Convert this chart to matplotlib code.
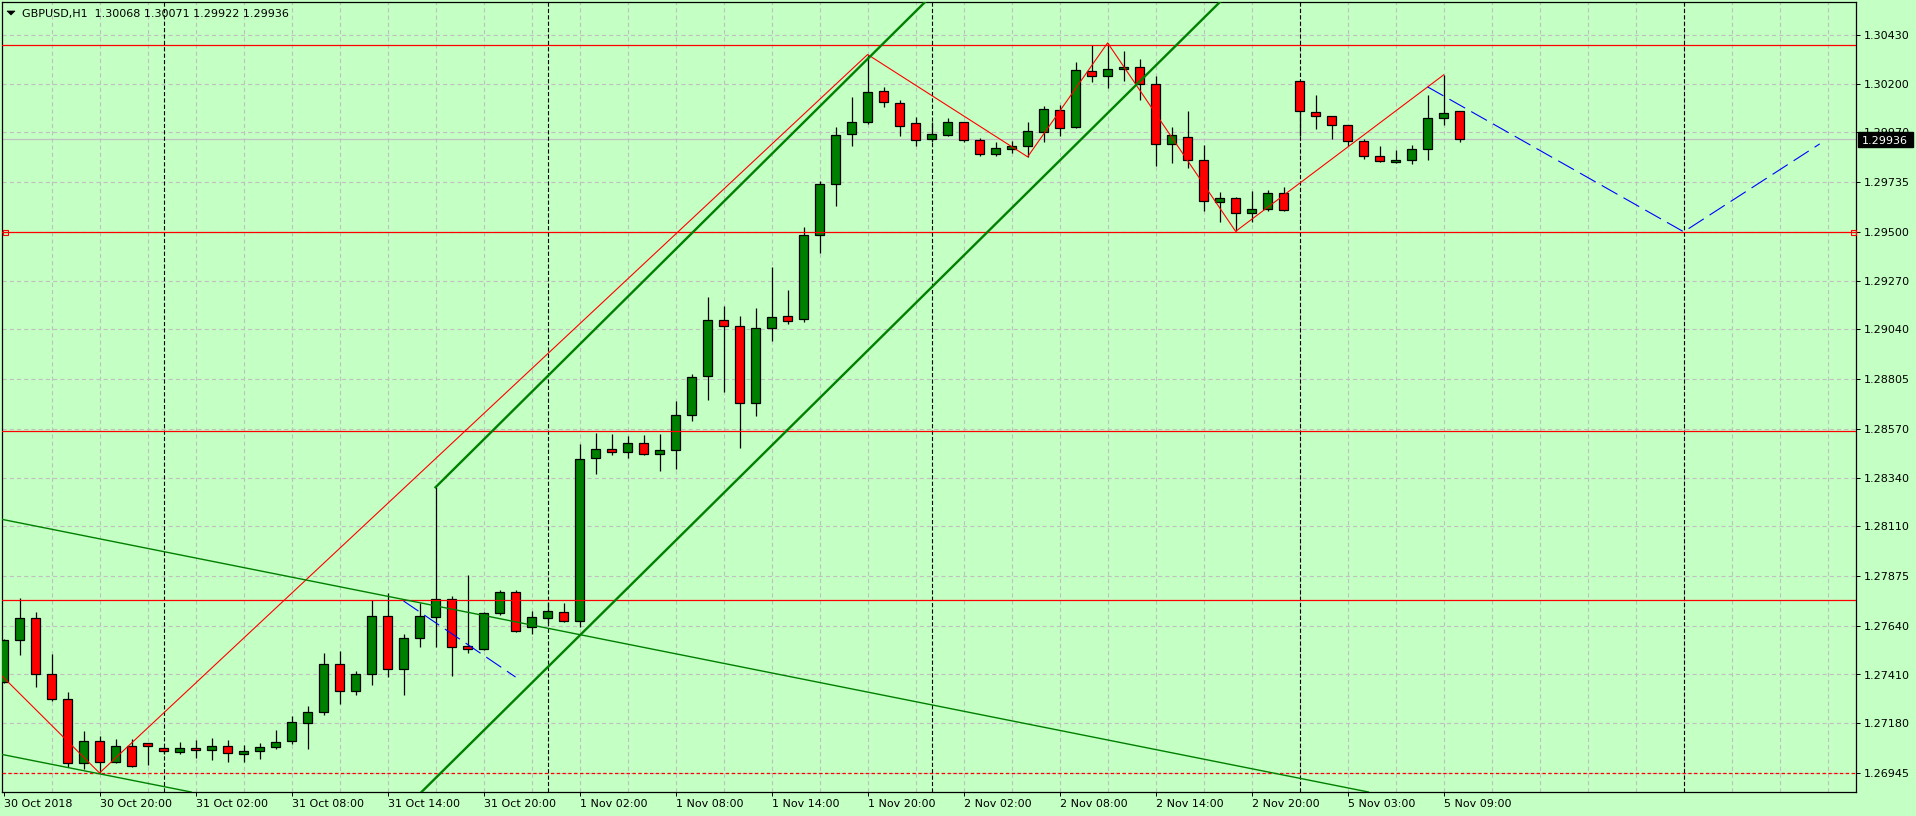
import matplotlib
matplotlib.use("Agg")
import matplotlib.pyplot as plt
import matplotlib.transforms as mtransforms
from matplotlib.patches import Polygon, Rectangle
import numpy as np

plt.rcParams['font.family'] = ['DejaVu Sans']
plt.rcParams['lines.scale_dashes'] = False

# ---------------- data ----------------
symbol = "GBPUSD,H1"

opens = [1.27373, 1.27572, 1.27676, 1.27411, 1.27293, 1.26991, 1.27095, 1.26996, 1.27071, 1.27085,
         1.27062, 1.27043, 1.27062, 1.27052, 1.27071, 1.27033, 1.27047, 1.27066, 1.27095, 1.27180,
         1.27232, 1.27458, 1.27331, 1.27411, 1.27685, 1.27435, 1.27581, 1.27680, 1.27765, 1.27543,
         1.27529, 1.27699, 1.27798, 1.27633, 1.27676, 1.27704, 1.27661, 1.28431, 1.28474, 1.28459,
         1.28502, 1.28450, 1.28469, 1.28634, 1.28818, 1.29083, 1.29054, 1.28691, 1.29045, 1.29102,
         1.29087, 1.29484, 1.29725, 1.29960, 1.30017, 1.30164, 1.30107, 1.30013, 1.29940, 1.29959,
         1.30018, 1.29933, 1.29867, 1.29893, 1.29903, 1.29971, 1.30074, 1.29997, 1.30259, 1.30235,
         1.30268, 1.30277, 1.30197, 1.29914, 1.29947, 1.29838, 1.29640, 1.29659, 1.29588, 1.29607,
         1.29682, 1.30211, 1.30065, 1.30046, 1.30004, 1.29928, 1.29857, 1.29829, 1.29838, 1.29890,
         1.30037, 1.30068]

highs = [1.27579, 1.27770, 1.27704, 1.27506, 1.27326, 1.27142, 1.27118, 1.27106, 1.27104, 1.27088,
         1.27069, 1.27091, 1.27101, 1.27110, 1.27101, 1.27077, 1.27088, 1.27148, 1.27214, 1.27261,
         1.27510, 1.27521, 1.27425, 1.27761, 1.27794, 1.27600, 1.27746, 1.28294, 1.27779, 1.27880,
         1.27707, 1.27808, 1.27808, 1.27709, 1.27751, 1.27748, 1.28499, 1.28551, 1.28546, 1.28536,
         1.28541, 1.28546, 1.28702, 1.28829, 1.29193, 1.29150, 1.29103, 1.29141, 1.29334, 1.29226,
         1.29523, 1.29739, 1.29996, 1.30137, 1.30337, 1.30184, 1.30122, 1.30043, 1.30019, 1.30035,
         1.30020, 1.29945, 1.29925, 1.29928, 1.30019, 1.30095, 1.30098, 1.30303, 1.30381, 1.30392,
         1.30353, 1.30315, 1.30236, 1.29994, 1.30071, 1.29909, 1.29687, 1.29664, 1.29692, 1.29698,
         1.29711, 1.30213, 1.30145, 1.30048, 1.30006, 1.29937, 1.29904, 1.29886, 1.29909, 1.30145,
         1.30241, 1.30071]

lows = [1.27370, 1.27504, 1.27353, 1.27286, 1.26975, 1.26962, 1.26945, 1.26992, 1.26975, 1.26984,
        1.27033, 1.27033, 1.27017, 1.27005, 1.26996, 1.26998, 1.27011, 1.27057, 1.27080, 1.27057,
        1.27217, 1.27272, 1.27312, 1.27362, 1.27397, 1.27315, 1.27541, 1.27541, 1.27404, 1.27510,
        1.27527, 1.27690, 1.27610, 1.27600, 1.27652, 1.27658, 1.27636, 1.28356, 1.28445, 1.28431,
        1.28445, 1.28370, 1.28382, 1.28609, 1.28708, 1.28744, 1.28481, 1.28632, 1.28986, 1.29064,
        1.29073, 1.29402, 1.29620, 1.29903, 1.30007, 1.30087, 1.29954, 1.29907, 1.29923, 1.29950,
        1.29925, 1.29860, 1.29860, 1.29871, 1.29854, 1.29923, 1.29950, 1.29989, 1.30209, 1.30181,
        1.30214, 1.30124, 1.29813, 1.29827, 1.29799, 1.29600, 1.29548, 1.29502, 1.29545, 1.29600,
        1.29600, 1.29950, 1.29983, 1.29940, 1.29903, 1.29843, 1.29829, 1.29827, 1.29819, 1.29838,
        1.30004, 1.29922]

closes = [1.27572, 1.27676, 1.27411, 1.27293, 1.26991, 1.27095, 1.26996, 1.27071, 1.26979, 1.27071,
          1.27047, 1.27062, 1.27052, 1.27071, 1.27038, 1.27047, 1.27066, 1.27090, 1.27184, 1.27232,
          1.27458, 1.27331, 1.27411, 1.27685, 1.27435, 1.27581, 1.27685, 1.27765, 1.27541, 1.27529,
          1.27699, 1.27798, 1.27614, 1.27680, 1.27709, 1.27661, 1.28426, 1.28474, 1.28459, 1.28502,
          1.28450, 1.28469, 1.28634, 1.28814, 1.29083, 1.29054, 1.28691, 1.29045, 1.29097, 1.29078,
          1.29486, 1.29725, 1.29956, 1.30018, 1.30159, 1.30112, 1.29999, 1.29933, 1.29961, 1.30018,
          1.29933, 1.29867, 1.29895, 1.29904, 1.29975, 1.30079, 1.29989, 1.30263, 1.30235, 1.30268,
          1.30277, 1.30197, 1.29914, 1.29956, 1.29838, 1.29645, 1.29659, 1.29588, 1.29607, 1.29682,
          1.29602, 1.30070, 1.30046, 1.30004, 1.29928, 1.29857, 1.29834, 1.29838, 1.29890, 1.30037,
          1.30060, 1.29936]

xtick_idx = [0, 6, 12, 18, 24, 30, 36, 42, 48, 54, 60, 66, 72, 78, 84, 90]
xtick_labels = ["30 Oct 2018", "30 Oct 20:00", "31 Oct 02:00", "31 Oct 08:00", "31 Oct 14:00",
                "31 Oct 20:00", "1 Nov 02:00", "1 Nov 08:00", "1 Nov 14:00", "1 Nov 20:00",
                "2 Nov 02:00", "2 Nov 08:00", "2 Nov 14:00", "2 Nov 20:00", "5 Nov 03:00",
                "5 Nov 09:00"]
ytick_values = [1.30430, 1.30200, 1.29970, 1.29735, 1.29500, 1.29270, 1.29040, 1.28805,
                1.28570, 1.28340, 1.28110, 1.27875, 1.27640, 1.27410, 1.27180, 1.26945]
grid_x_idx = list(range(3, 116, 3))
day_sep_idx = [10, 34, 58, 81, 105]

red_levels = [1.30383, 1.29500, 1.28560, 1.27762]
red_dashed_level = 1.26945
square_level = 1.29500

zz_idx = [-1, 6, 54, 64, 69, 77, 90]
zz_price = [1.27471, 1.26945, 1.30337, 1.29854, 1.30392, 1.29502, 1.30241]

chan_up_idx = [27, 54]
chan_up_price = [1.28294, 1.30316]
chan_lo_idx = [46, 54]
chan_lo_price = [1.28341, 1.28939]

trend_up_idx = [0, 80]
trend_up_price = [1.28141, 1.26935]
trend_lo_idx = [0, 6]
trend_lo_price = [1.27031, 1.26941]

blue1_idx = [25, 32]
blue1_price = [1.27757, 1.27398]
blue2_idx = [89, 105, 113.5]
blue2_price = [1.30184, 1.29500, 1.29915]

# ---------------- figure ----------------
W, H = 1916, 816
BG = '#C4FFC4'
fig = plt.figure(figsize=(W / 100 + 0.002, H / 100 + 0.002), dpi=100, facecolor=BG)
ax = fig.add_axes([2 / W, 24 / H, 1854 / W, 790 / H], facecolor=BG)
ax.set_xlim(-0.094, 115.78)
ax.set_ylim(1.268552, 1.305859)

GRID = '#C0C0C0'
grid_ls = (0, (3.0, 2.2))
for v in ytick_values:
    ax.axhline(v, color=GRID, lw=0.8, ls=grid_ls, zorder=0.5)
for g in grid_x_idx:
    ax.axvline(g, color=GRID, lw=0.8, ls=grid_ls, zorder=0.5)

# current price line
ax.axhline(closes[-1], color=GRID, lw=0.9, zorder=0.8)

# day separators
for d in day_sep_idx:
    ax.axvline(d, color='black', lw=0.8, ls=(0, (3.0, 1.6)), zorder=1.5)

# candles
idx = np.arange(len(opens))
o = np.array(opens); c = np.array(closes); h = np.array(highs); l = np.array(lows)
up = c >= o
ax.vlines(idx, l, h, color='black', lw=0.9, zorder=2)
ax.bar(idx, np.abs(c - o), bottom=np.minimum(o, c), width=0.58,
       color=np.where(up, '#008000', '#FF0000'), edgecolor='black', linewidth=0.9, zorder=3)

# horizontal levels
for v in red_levels:
    ax.axhline(v, color='#FF0000', lw=0.9, zorder=4)
ax.axhline(red_dashed_level, color='#FF0000', lw=0.9, ls=(0, (2.4, 1.8)), zorder=4)
x0, x1 = ax.get_xlim()
ax.plot([x0 + 0.19, x1 - 0.17], [square_level, square_level], ls='none', marker='s', ms=3.6,
        mfc='none', mec='#FF0000', mew=0.8, zorder=4, clip_on=False)

# zigzag
ax.plot(zz_idx, zz_price, color='#FF0000', lw=0.8, zorder=5)

# channel (thick green)
s_up = (chan_up_price[1] - chan_up_price[0]) / (chan_up_idx[1] - chan_up_idx[0])
ax.plot([chan_up_idx[0], 130], [chan_up_price[0], chan_up_price[0] + s_up * (130 - chan_up_idx[0])],
        color='#008000', lw=1.7, zorder=5)
ax.axline((chan_lo_idx[0], chan_lo_price[0]), (chan_lo_idx[1], chan_lo_price[1]),
          color='#008000', lw=1.7, zorder=5)

# thin descending green lines
ax.axline((trend_up_idx[0], trend_up_price[0]), (trend_up_idx[1], trend_up_price[1]),
          color='#008000', lw=1.0, zorder=5)
ax.axline((trend_lo_idx[0], trend_lo_price[0]), (trend_lo_idx[1], trend_lo_price[1]),
          color='#008000', lw=1.0, zorder=5)

# blue dashed projections
ax.plot(blue1_idx, blue1_price, color='#0000FF', lw=0.8, ls=(0, (13, 5)), zorder=5)
ax.plot(blue2_idx, blue2_price, color='#0000FF', lw=0.8, ls=(0, (13, 5)), zorder=5)

# axes / ticks
ax.set_xticks(xtick_idx)
ax.set_xticklabels(xtick_labels, ha='left')
ax.tick_params(axis='x', direction='out', length=3, width=0.72, pad=2.2, labelsize=8, colors='black')
ax.yaxis.tick_right()
ax.set_yticks(ytick_values)
ax.set_yticklabels([f'{v:.5f}' for v in ytick_values])
ax.tick_params(axis='y', direction='out', length=3.2, width=0.72, pad=2.2, labelsize=8, colors='black')
for s in ax.spines.values():
    s.set_color('black')
    s.set_linewidth(0.9)

# current price box
ident = mtransforms.IdentityTransform()
ypix = ax.transData.transform((0, closes[-1]))[1]
fig.add_artist(Rectangle((1858, ypix - 7.5), 55, 15, transform=ident, facecolor='black',
                         edgecolor='black', zorder=10))
fig.text(1862, ypix, f'{closes[-1]:.5f}', transform=ident, color='white', fontsize=8,
         va='center_baseline', ha='left', zorder=11)

# header
fig.add_artist(Polygon([(7, H - 11), (15, H - 11), (11, H - 15)], closed=True, transform=ident,
                       facecolor='black', edgecolor='black', lw=0.5))
header = f'{symbol}  {opens[-1]:.5f} {highs[-1]:.5f} {lows[-1]:.5f} {closes[-1]:.5f}'
fig.text(22, H - 17, header, transform=ident, fontsize=8, va='baseline', ha='left', color='black')

fig.savefig('out.png', dpi=100, facecolor=BG)
